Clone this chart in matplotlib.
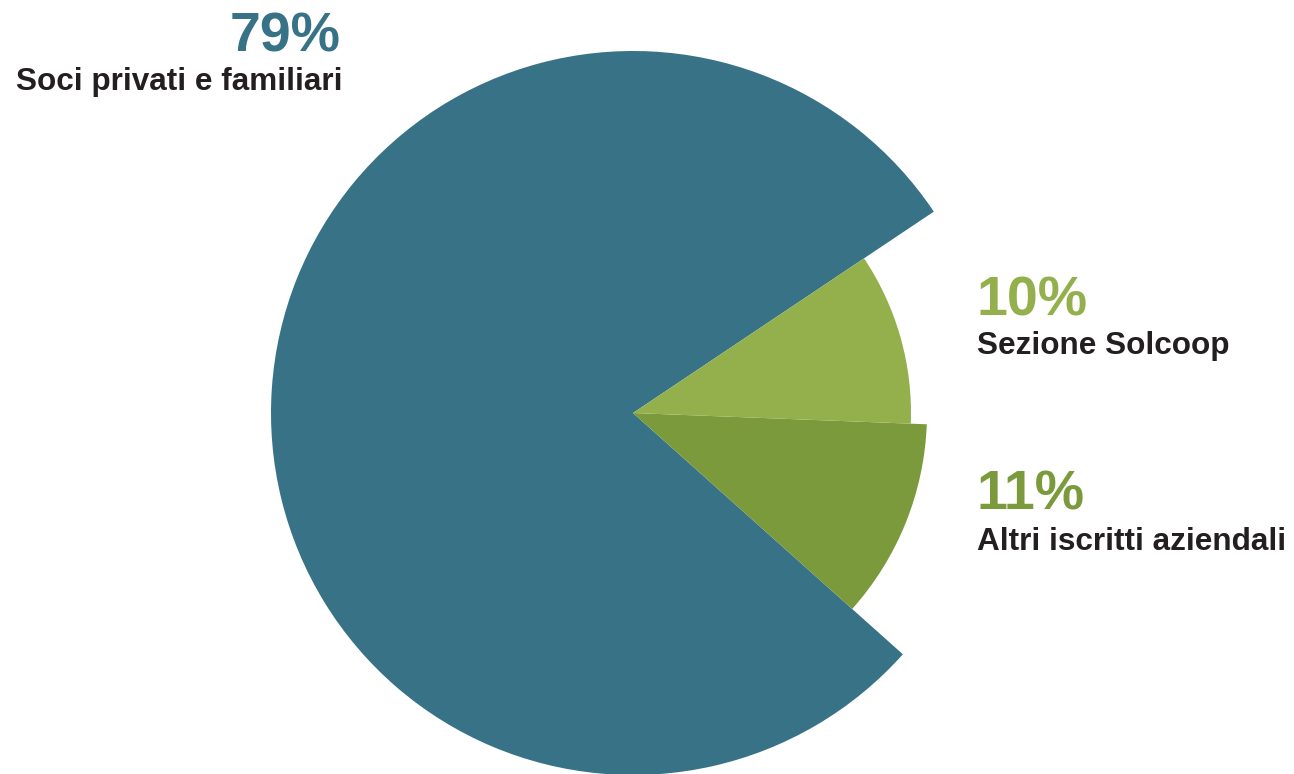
import matplotlib
matplotlib.use("Agg")
import matplotlib.pyplot as plt

# data
labels = ["Soci privati e familiari", "Altri iscritti aziendali", "Sezione Solcoop"]
values = [79, 11, 10]
pct_labels = ["79%", "11%", "10%"]
colors = ["#387286", "#7a9a3c", "#93b04c"]
radii = [362, 294, 278]

W, H = 1294, 774
fig = plt.figure(figsize=(W / 100, H / 100), dpi=100)
ax = fig.add_axes([0, 0, 1, 1])

# pie in pixel units, each wedge gets its own radius
wedges, _ = ax.pie(values, colors=colors, startangle=33.8, counterclock=True,
                   center=(633, H - 413), radius=362,
                   wedgeprops=dict(linewidth=0))
for w, r in zip(wedges, radii):
    w.set_radius(r)

ax.set_xlim(0, W)
ax.set_ylim(0, H)
ax.set_aspect("equal")
ax.axis("off")

font = "Liberation Sans"
dark = "#231f20"

# labels (pixel y measured from top)
ax.text(341, H - 52, pct_labels[0], ha="right", va="baseline", fontsize=40,
        fontweight="bold", color=colors[0], family=font)
ax.text(343, H - 90, labels[0], ha="right", va="baseline", fontsize=22.7,
        fontweight="bold", color=dark, family=font)

ax.text(977, H - 315, pct_labels[2], ha="left", va="baseline", fontsize=40,
        fontweight="bold", color=colors[2], family=font)
ax.text(977, H - 354, labels[2], ha="left", va="baseline", fontsize=22.7,
        fontweight="bold", color=dark, family=font)

ax.text(977, H - 510, pct_labels[1], ha="left", va="baseline", fontsize=40,
        fontweight="bold", color=colors[1], family=font)
ax.text(977, H - 550, labels[1], ha="left", va="baseline", fontsize=22.7,
        fontweight="bold", color=dark, family=font)

fig.savefig("out.png", dpi=100)
